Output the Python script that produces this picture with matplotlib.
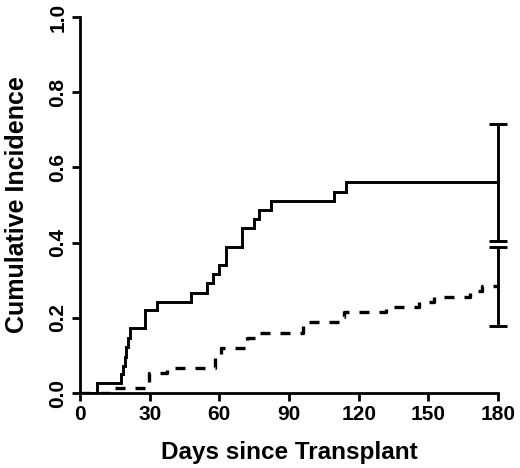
import matplotlib
matplotlib.use('Agg')
import matplotlib.pyplot as plt

plt.rcParams['font.family'] = ['Liberation Sans', 'DejaVu Sans']
plt.rcParams['font.weight'] = 'bold'

# courbe pleine (step)
jours_a = [0, 7.2, 17.7, 18.6, 19.2, 19.9, 20.6, 21.5, 28.0, 33.0, 47.6, 54.8,
           57.1, 59.7, 62.9, 69.9, 75.0, 77.0, 82.1, 109.2, 114.4, 180]
inc_a = [0, 0.026, 0.050, 0.073, 0.097, 0.122, 0.146, 0.172, 0.220, 0.243, 0.267,
         0.292, 0.316, 0.340, 0.389, 0.438, 0.462, 0.487, 0.511, 0.535, 0.562, 0.562]

# courbe pointillée
jours_b = [0, 13.0, 29.9, 37.5, 58.1, 60.6, 71.8, 75.5, 95.9, 111.5, 113.5,
           131.8, 146.0, 152.5, 168.0, 173.0, 180]
inc_b = [0, 0.013, 0.052, 0.066, 0.092, 0.119, 0.146, 0.160, 0.188, 0.202, 0.216,
         0.228, 0.243, 0.256, 0.270, 0.285, 0.285]

# intervalles de confiance à 180 jours
ic_a = (0.404, 0.715)
ic_b = (0.179, 0.389)

fig = plt.figure(figsize=(5.2, 4.68), dpi=100)
ax = fig.add_axes([80/520, 1-393/468, 418/520, 376/468])

ax.step(jours_a, inc_a, where='post', color='black', lw=2.1, solid_joinstyle='miter')
ax.step(jours_b, inc_b, where='post', color='black', lw=2.4, linestyle=(0, (3.0, 3.0)))

for courbe, ic in ((inc_a, ic_a), (inc_b, ic_b)):
    est = courbe[-1]
    ax.errorbar([180], [est], yerr=[[est - ic[0]], [ic[1] - est]], fmt='none',
                ecolor='black', elinewidth=2.1, capsize=6.5, capthick=2.1, clip_on=False)

ax.set_xlim(0, 180)
ax.set_ylim(0, 1)
ax.set_xticks([0, 30, 60, 90, 120, 150, 180])
ax.set_yticks([0.0, 0.2, 0.4, 0.6, 0.8, 1.0])
ax.set_yticklabels(['0.0', '0.2', '0.4', '0.6', '0.8', '1.0'], rotation=90, va='center')

for s in ['top', 'right']:
    ax.spines[s].set_visible(False)
for s in ['left', 'bottom']:
    ax.spines[s].set_linewidth(2)
ax.tick_params(width=2, length=6, labelsize=15, pad=3)

ax.set_xlabel('Days since Transplant', fontsize=17.5, fontweight='bold', labelpad=12)
ax.set_ylabel('Cumulative Incidence', fontsize=18, fontweight='bold', labelpad=14)

fig.savefig('out.png', dpi=100)
